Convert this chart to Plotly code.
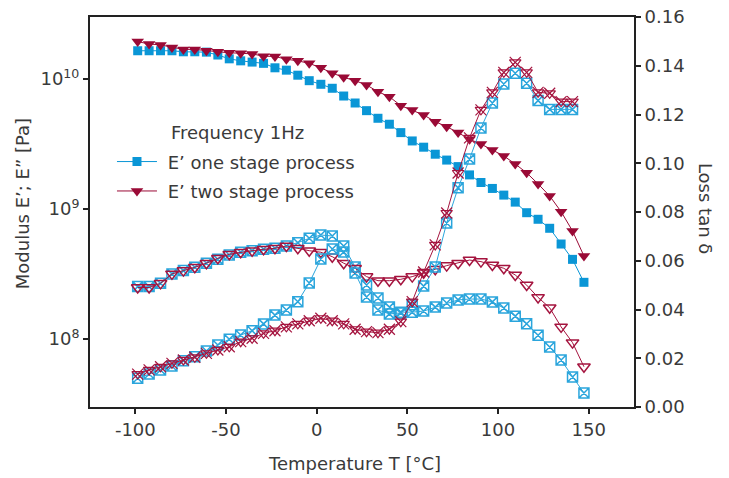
import plotly.graph_objects as go

# Temperature (°C) of each measuring point
temp = [-98.7, -92.4, -86.1, -79.8, -73.5, -67.2, -60.8, -54.5, -48.2, -41.9,
        -35.6, -29.3, -23.0, -16.7, -10.4, -4.1, 2.3, 8.6, 14.9, 21.2,
        27.5, 33.8, 40.1, 46.4, 52.7, 59.0, 65.4, 71.7, 78.0, 84.3,
        90.6, 96.9, 103.2, 109.5, 115.8, 122.1, 128.5, 134.8, 141.1, 147.4]
temp_tan = temp[:39]

# Storage modulus E' [Pa]
e1_one = [1.65e10, 1.65e10, 1.65e10, 1.65e10, 1.62e10, 1.62e10, 1.61e10, 1.53e10, 1.43e10, 1.38e10,
          1.35e10, 1.32e10, 1.22e10, 1.17e10, 1.07e10, 9.71e9, 9.11e9, 8.49e9, 7.40e9, 6.54e9,
          5.71e9, 4.99e9, 4.49e9, 3.87e9, 3.34e9, 2.99e9, 2.64e9, 2.38e9, 2.12e9, 1.83e9,
          1.60e9, 1.44e9, 1.28e9, 1.13e9, 9.37e8, 8.34e8, 7.11e8, 5.38e8, 4.10e8, 2.73e8]
e1_two = [1.94e10, 1.86e10, 1.83e10, 1.75e10, 1.69e10, 1.69e10, 1.65e10, 1.62e10, 1.59e10, 1.58e10,
          1.56e10, 1.50e10, 1.49e10, 1.42e10, 1.38e10, 1.32e10, 1.22e10, 1.11e10, 1.03e10, 9.71e9,
          9.00e9, 7.99e9, 7.31e9, 6.24e9, 5.78e9, 5.29e9, 4.70e9, 4.30e9, 3.87e9, 3.44e9,
          3.16e9, 2.85e9, 2.56e9, 2.22e9, 1.90e9, 1.56e9, 1.26e9, 9.54e8, 6.78e8, 4.35e8]

# Loss modulus E'' [Pa]
e2_one = [2.53e8, 2.53e8, 2.68e8, 3.17e8, 3.36e8, 3.56e8, 3.83e8, 4.10e8, 4.43e8, 4.65e8,
          4.78e8, 4.90e8, 4.99e8, 5.20e8, 5.51e8, 5.95e8, 6.31e8, 6.20e8, 5.20e8, 3.58e8,
          2.60e8, 2.07e8, 1.76e8, 1.61e8, 1.61e8, 1.64e8, 1.76e8, 1.89e8, 2.00e8, 2.03e8,
          2.03e8, 1.93e8, 1.73e8, 1.50e8, 1.31e8, 1.07e8, 8.69e7, 6.90e7, 5.11e7, 3.84e7]
e2_two = [2.49e8, 2.49e8, 2.68e8, 3.17e8, 3.36e8, 3.56e8, 3.83e8, 4.18e8, 4.49e8, 4.65e8,
          4.78e8, 4.90e8, 4.99e8, 5.20e8, 4.99e8, 4.78e8, 4.65e8, 4.30e8, 3.83e8, 3.50e8,
          3.02e8, 2.81e8, 2.81e8, 2.88e8, 3.02e8, 3.24e8, 3.44e8, 3.67e8, 3.83e8, 4.05e8,
          3.94e8, 3.71e8, 3.50e8, 3.11e8, 2.60e8, 2.09e8, 1.74e8, 1.24e8, 9.38e7, 6.12e7]

# Loss factor tan delta
tan_one = [0.0118, 0.0135, 0.0152, 0.0168, 0.0190, 0.0206, 0.0230, 0.0254, 0.0278, 0.0295,
           0.0313, 0.0341, 0.0377, 0.0398, 0.0432, 0.0509, 0.0607, 0.0648, 0.0636, 0.0550,
           0.0451, 0.0398, 0.0382, 0.0386, 0.0419, 0.0496, 0.0574, 0.0755, 0.0899, 0.1017,
           0.1145, 0.1247, 0.1325, 0.1369, 0.1328, 0.1257, 0.1221, 0.1221, 0.1221]
tan_two = [0.0135, 0.0152, 0.0165, 0.0179, 0.0193, 0.0204, 0.0220, 0.0234, 0.0247, 0.0268,
           0.0282, 0.0302, 0.0313, 0.0329, 0.0341, 0.0354, 0.0364, 0.0354, 0.0341, 0.0319,
           0.0309, 0.0305, 0.0319, 0.0350, 0.0432, 0.0554, 0.0665, 0.0796, 0.0960, 0.1104,
           0.1219, 0.1291, 0.1373, 0.1414, 0.1373, 0.1291, 0.1287, 0.1253, 0.1253]

x_ticks = [-100, -50, 0, 50, 100, 150]
x_ticktext = ["-100", "-50", "0", "50", "100", "150"]
y_ticks = [1e8, 1e9, 1e10]
y_ticktext = ["10<sup>8</sup>", "10<sup>9</sup>", "10<sup>10</sup>"]
y2_ticks = [0, 0.02, 0.04, 0.06, 0.08, 0.10, 0.12, 0.14, 0.16]

BLUE = "#0a96d6"
BLUE_L = "#2aa5dc"
RED = "#9a0a36"
RED_L = "#a5143f"
FONT = "DejaVu Sans"
TXT = "#3a3a3a"
NB = "\u00a0"

fig = go.Figure()

# E'' one stage
fig.add_trace(go.Scatter(x=temp, y=e2_one, mode="lines+markers", showlegend=False,
                         line=dict(color=BLUE_L, width=1),
                         marker=dict(symbol="square-x-open", size=10, color=BLUE_L,
                                     line=dict(width=1.5, color=BLUE_L))))
# tan delta one stage
fig.add_trace(go.Scatter(x=temp_tan, y=tan_one, mode="lines+markers", showlegend=False, yaxis="y2",
                         line=dict(color=BLUE_L, width=1),
                         marker=dict(symbol="square-x-open", size=10, color=BLUE_L,
                                     line=dict(width=1.5, color=BLUE_L))))
# E' one stage
fig.add_trace(go.Scatter(x=temp, y=e1_one, mode="lines+markers", name=NB + "E’ one stage process",
                         legendgroup="a",
                         line=dict(color=BLUE, width=1),
                         marker=dict(symbol="square", size=9, color=BLUE)))
# E'' two stage
fig.add_trace(go.Scatter(x=temp, y=e2_two, mode="lines+markers", showlegend=False,
                         line=dict(color=RED_L, width=1),
                         marker=dict(symbol="triangle-down-open", size=11, color=RED_L,
                                     line=dict(width=1.5, color=RED_L))))
# tan delta two stage
fig.add_trace(go.Scatter(x=temp_tan, y=tan_two, mode="lines+markers", showlegend=False, yaxis="y2",
                         line=dict(color=RED_L, width=1),
                         marker=dict(symbol="triangle-down-open", size=10, color=RED_L,
                                     line=dict(width=1.2, color=RED_L))))
fig.add_trace(go.Scatter(x=temp_tan, y=tan_two, mode="markers", showlegend=False, yaxis="y2",
                         marker=dict(symbol="x-thin-open", size=11, color=RED_L,
                                     line=dict(width=1.2, color=RED_L))))
# E' two stage
fig.add_trace(go.Scatter(x=temp, y=e1_two, mode="lines+markers", name=NB + "E’ two stage process",
                         legendgroup="b",
                         line=dict(color=RED, width=1),
                         marker=dict(symbol="triangle-down", size=11, color=RED)))

axis_common = dict(showgrid=False, zeroline=False, linecolor="#222222", linewidth=2,
                   ticks="outside", ticklen=5, tickwidth=2, tickcolor="#222222",
                   automargin=False, ticklabeloverflow="allow",
                   tickfont=dict(family=FONT, size=18, color=TXT))

fig.update_layout(
    width=729, height=478,
    margin=dict(l=90, r=95, t=17, b=71, autoexpand=False),
    paper_bgcolor="white", plot_bgcolor="white",
    font=dict(family=FONT, size=18, color=TXT),
    xaxis=dict(range=[-125, 175], tickvals=x_ticks, ticktext=x_ticktext, mirror=True,
               **axis_common),
    yaxis=dict(type="log", range=[7.4771, 10.4771], tickvals=y_ticks, ticktext=y_ticktext,
               **axis_common),
    yaxis2=dict(overlaying="y", side="right", range=[0, 0.16], tickvals=y2_ticks,
                tickformat=".2f", **axis_common),
    legend=dict(x=0.0404, y=0.676, xanchor="left", yanchor="top", bgcolor="rgba(0,0,0,0)",
                itemwidth=40, tracegroupgap=3,
                font=dict(family=FONT, size=18, color=TXT)),
    annotations=[
        dict(text="Frequency 1Hz", xref="paper", yref="paper", x=0.145, y=0.705,
             xanchor="left", yanchor="middle", showarrow=False,
             font=dict(family=FONT, size=18, color=TXT)),
        dict(text="Temperature T [°C]", xref="paper", yref="paper", x=0.487, y=-0.1436,
             xanchor="center", yanchor="middle", showarrow=False,
             font=dict(family=FONT, size=18, color=TXT)),
        dict(text="Modulus E’; E” [Pa]", xref="paper", yref="paper", x=-0.125, y=0.52,
             xanchor="center", yanchor="middle", textangle=-90, showarrow=False,
             font=dict(family=FONT, size=18, color=TXT)),
        dict(text="Loss tan δ", xref="paper", yref="paper", x=1.1305, y=0.508,
             xanchor="center", yanchor="middle", textangle=90, showarrow=False,
             font=dict(family=FONT, size=18, color=TXT)),
    ],
)

fig.write_html("out.html", config={"displayModeBar": False},
               post_script="document.body.style.margin='0';")
